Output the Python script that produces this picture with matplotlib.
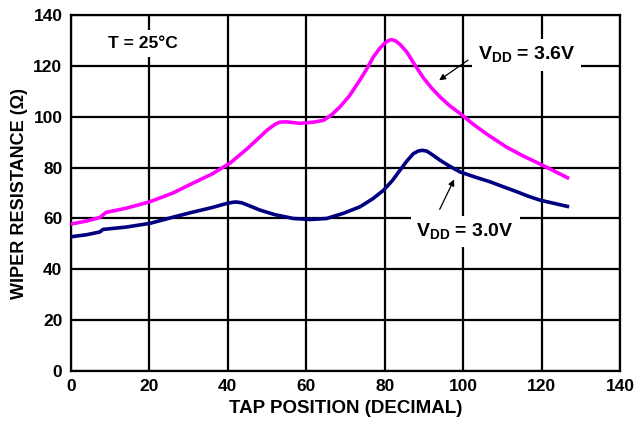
import numpy as np
import matplotlib.pyplot as plt

plt.rcParams['font.family'] = ['Liberation Sans', 'DejaVu Sans']
plt.rcParams['font.weight'] = 'bold'
plt.rcParams['mathtext.fontset'] = 'custom'
plt.rcParams['mathtext.bf'] = 'Liberation Sans:bold'

# tap position vs wiper resistance
tap_36 = [0, 4, 7.4, 9, 14, 20, 26, 31, 36, 40.6, 45, 48, 50, 52, 53.3, 55, 58.4, 62, 64.4, 66.5, 68.6,
          71, 73.7, 75.5, 77.1, 78.8, 80, 81, 81.8, 82.8, 84, 85.6, 87.5, 89.9, 92, 94.1, 96.5, 99.2,
          102.6, 106, 111, 115, 119.6, 123, 127]
r_36 = [57.8, 59, 60.4, 62.4, 64, 66.5, 70, 73.8, 77.5, 81.8, 87.5, 91.8, 94.7, 97, 97.9, 98, 97.4, 97.9, 98.6, 100.8, 103.9,
        108.2, 114.5, 119, 123.5, 127, 128.9, 130, 130.3, 129.8, 128.3, 125.5, 120.8, 115.2, 111.2, 107.8, 104.4, 101.3,
        97, 93.2, 88.1, 84.8, 81.4, 78.8, 75.7]

tap_30 = [0, 4, 7.4, 8.2, 14, 20.2, 26, 31.1, 36, 39, 40.6, 42, 43.5, 45.5, 48.2, 52, 56.7, 61, 65.2,
          69.4, 73.7, 77, 79.7, 82, 83.9, 85.7, 87.3, 88.5, 89.5, 90.7, 92.2, 94.1, 96.5, 99.2, 103,
          106.9, 110, 113.7, 116.5, 119.6, 123, 127]
r_30 = [52.8, 53.6, 54.7, 55.7, 56.6, 58.1, 60.5, 62.5, 64.3, 65.6, 66.2, 66.5, 66.2, 65, 63.3, 61.5, 60.0, 59.6, 60,
        62, 64.6, 67.8, 71.1, 75, 79, 82.7, 85.5, 86.5, 86.8, 86.5, 85, 82.9, 80.6, 78.3, 76.3,
        74.4, 72.6, 70.5, 68.8, 67.2, 66, 64.6]

xticks = [0, 20, 40, 60, 80, 100, 120, 140]
yticks = [0, 20, 40, 60, 80, 100, 120, 140]

fig = plt.figure(figsize=(6.38, 4.29), dpi=100)
ax = fig.add_axes([0.111, 0.135, 0.861, 0.83])

ax.plot(tap_36, r_36, color='#ff00ff', lw=2.6, solid_capstyle='butt', zorder=3)
ax.plot(tap_30, r_30, color='#000080', lw=2.6, solid_capstyle='butt', zorder=3)

ax.set_xlim(0, 140)
ax.set_ylim(0, 140)
ax.set_xticks(xticks)
ax.set_yticks(yticks)
ax.grid(True, color='black', lw=1.6)
ax.set_axisbelow(True)
for s in ax.spines.values():
    s.set_linewidth(1.6)
ax.tick_params(length=0, labelsize=12.5, pad=6)
ax.set_xlabel('TAP POSITION (DECIMAL)', fontsize=13.5, fontweight='bold', labelpad=4)
ax.set_ylabel('WIPER RESISTANCE (\u03a9)', fontsize=13, fontweight='bold', labelpad=4)

box = dict(facecolor='white', edgecolor='none', pad=4)
ax.text(18.4, 128.8, 'T = 25°C', fontsize=12.5, fontweight='bold', ha='center', va='center',
        bbox=box, zorder=4)
ax.text(116.2, 124.2, r'V$_{\mathbf{DD}}$ = 3.6V', fontsize=14, fontweight='bold',
        ha='center', va='center', bbox=box, zorder=4)
ax.text(100.5, 54.8, r'V$_{\mathbf{DD}}$ = 3.0V', fontsize=14, fontweight='bold',
        ha='center', va='center', bbox=box, zorder=4)

arrow = dict(arrowstyle='-|>', color='black', lw=0.9, mutation_scale=9)
ax.annotate('', xy=(93.3, 113.7), xytext=(101.8, 122.9), arrowprops=arrow, zorder=5)
ax.annotate('', xy=(98, 76.3), xytext=(93.7, 62.6), arrowprops=arrow, zorder=5)

fig.savefig('out.png', dpi=100)
